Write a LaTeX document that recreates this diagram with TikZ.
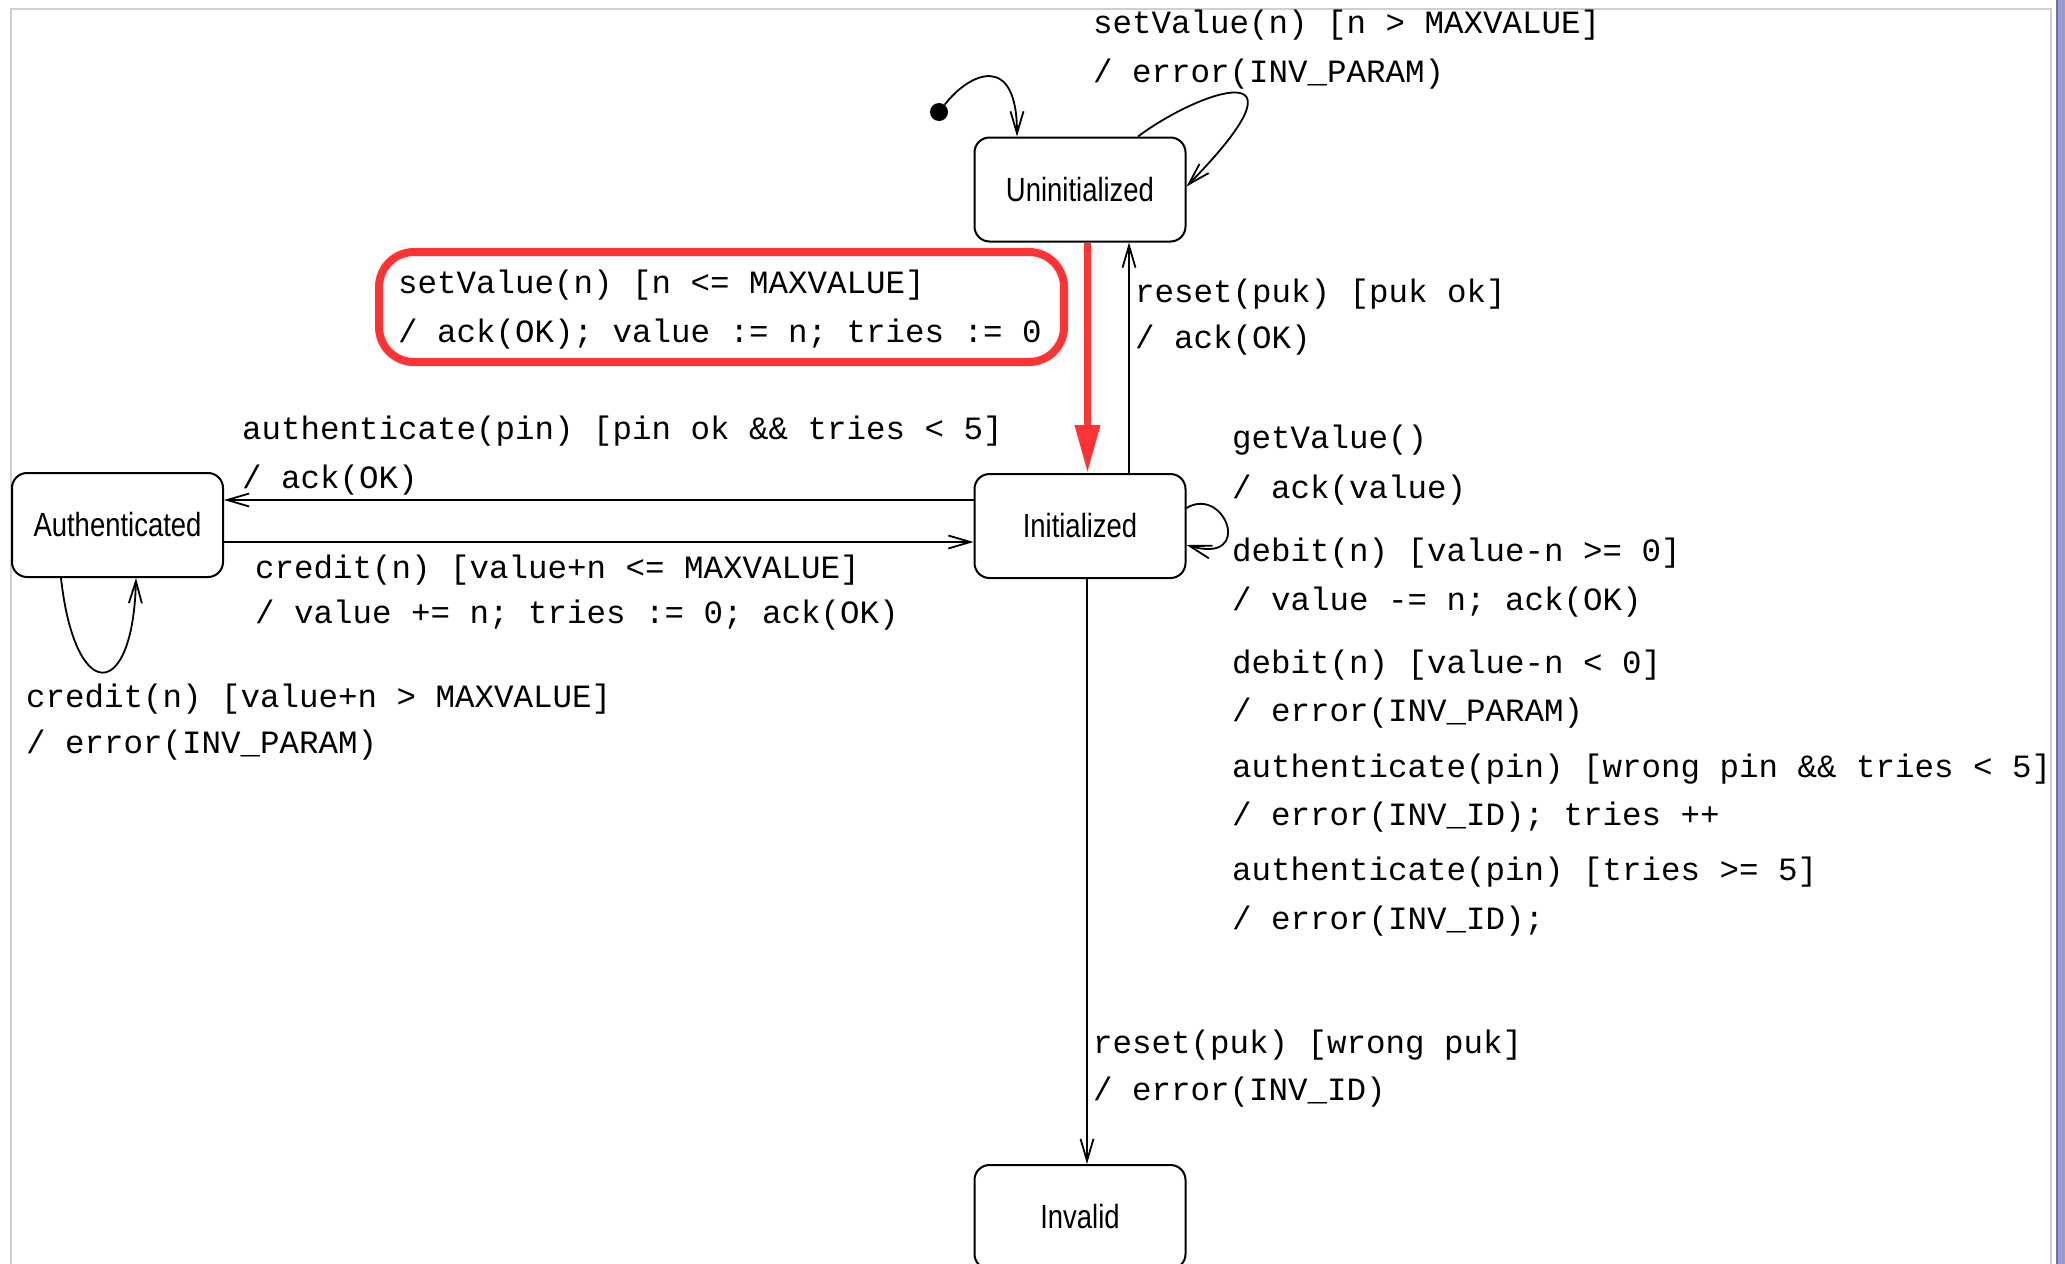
\documentclass[tikz,border=0pt]{standalone}
\usepackage{fontspec}
\usetikzlibrary{arrows.meta}
\newfontfamily\monofam{Liberation Mono}
\newfontfamily\statefam{Liberation Sans}[FakeStretch=0.82]
\definecolor{hlred}{RGB}{255,51,51}
\definecolor{framegrey}{RGB}{205,205,222}
\definecolor{bandpurple}{RGB}{155,155,206}
\definecolor{banddark}{RGB}{110,110,170}
\begin{document}
\begin{tikzpicture}[x=1pt,y=-1pt,
  stbox/.style={draw, line width=2pt, rounded corners=15pt, minimum width=211pt, minimum height=104pt, inner sep=0pt, font=\statefam\fontsize{33.5}{40}\selectfont},
  lbl/.style={anchor=base west, inner sep=0pt, font=\monofam\fontsize{32.5}{40}\selectfont},
  conn/.style={line width=1.8pt},
  arr/.style={conn, -{Straight Barb[length=22pt,width=13pt]}},
  hilite/.style={draw=hlred, line width=8pt, rounded corners=35pt, minimum width=685pt, minimum height=110pt, inner sep=0pt},
]
\fill[white] (0,0) rectangle (2065,1264);
\useasboundingbox (0,0) rectangle (2065,1264);
% window frame
\draw[framegrey, line width=1.5pt] (11,1264) -- (11,9) -- (2051,9) -- (2051,1264);
\fill[bandpurple] (2057,0) rectangle (2065,1264);
\draw[banddark, line width=1.5pt] (2057,0) -- (2057,1264);

% states
\node[stbox] (uninit) at (1080,189.5) {Uninitialized};
\node[stbox] (init) at (1080,526) {Initialized};
\node[stbox] (auth) at (117.5,525) {Authenticated};
\node[stbox] (invalid) at (1080,1217) {Invalid};
\node[circle, fill, inner sep=0pt, minimum size=18pt] (start) at (939,112) {};
\node[hilite] (hl) at (721.5,307) {};

% labels
\node[lbl] (t1a) at (1093,33) {setValue(n) [n > MAXVALUE]};
\node[lbl] (t1b) at (1093,82) {/ error(INV\_PARAM)};
\node[lbl] (t2a) at (398,293) {setValue(n) [n <= MAXVALUE]};
\node[lbl] (t2b) at (398,342) {/ ack(OK); value := n; tries := 0};
\node[lbl] (t3a) at (1135,302) {reset(puk) [puk ok]};
\node[lbl] (t3b) at (1135,348) {/ ack(OK)};
\node[lbl] (t4a) at (242,439) {authenticate(pin) [pin ok \&\& tries < 5]};
\node[lbl] (t4b) at (242,488) {/ ack(OK)};
\node[lbl] (t5a) at (255,578) {credit(n) [value+n <= MAXVALUE]};
\node[lbl] (t5b) at (255,623) {/ value += n; tries := 0; ack(OK)};
\node[lbl] (t6a) at (26,707) {credit(n) [value+n > MAXVALUE]};
\node[lbl] (t6b) at (26,753) {/ error(INV\_PARAM)};
\node[lbl] (t7a) at (1232,448) {getValue()};
\node[lbl] (t7b) at (1232,498) {/ ack(value)};
\node[lbl] (t7c) at (1232,561) {debit(n) [value-n >= 0]};
\node[lbl] (t7d) at (1232,610) {/ value -= n; ack(OK)};
\node[lbl] (t7e) at (1232,673) {debit(n) [value-n < 0]};
\node[lbl] (t7f) at (1232,721) {/ error(INV\_PARAM)};
\node[lbl] (t7g) at (1232,777) {authenticate(pin) [wrong pin \&\& tries < 5]};
\node[lbl] (t7h) at (1232,825) {/ error(INV\_ID); tries ++};
\node[lbl] (t7i) at (1232,880) {authenticate(pin) [tries >= 5]};
\node[lbl] (t7j) at (1232,929) {/ error(INV\_ID);};
\node[lbl] (t8a) at (1093,1053) {reset(puk) [wrong puk]};
\node[lbl] (t8b) at (1093,1100) {/ error(INV\_ID)};

% connectors
\draw[arr] (start) .. controls (970,72) and (1017,52) .. ([xshift=-63pt]uninit.north);
\draw[arr] ([xshift=58pt]uninit.north) .. controls (1200,90) and (1320,50) .. ([yshift=3pt]uninit.east);
\draw[line width=7pt, hlred, -{Triangle[length=48pt,width=24pt]}] ([xshift=7.5pt]uninit.south) -- ([xshift=7.5pt]init.north);
\draw[arr] ([xshift=49pt]init.north) -- ([xshift=49pt]uninit.south);
\coordinate (aTop) at ([yshift=26pt]init.west);
\draw[arr] (aTop) -- (aTop -| auth.east);
\coordinate (aBot) at ([yshift=-17pt]auth.east);
\draw[arr] (aBot) -- (aBot -| init.west);
\draw[arr] ([yshift=18pt]init.east) .. controls (1225,485) and (1255,565) .. ([yshift=-19pt]init.east);
\draw[arr] ([xshift=50pt]auth.south west) .. controls (75,705) and (133,702) .. ([xshift=125pt]auth.south west);
\draw[arr] ([xshift=7pt]init.south) -- ([xshift=7pt]invalid.north);
\end{tikzpicture}
\end{document}
